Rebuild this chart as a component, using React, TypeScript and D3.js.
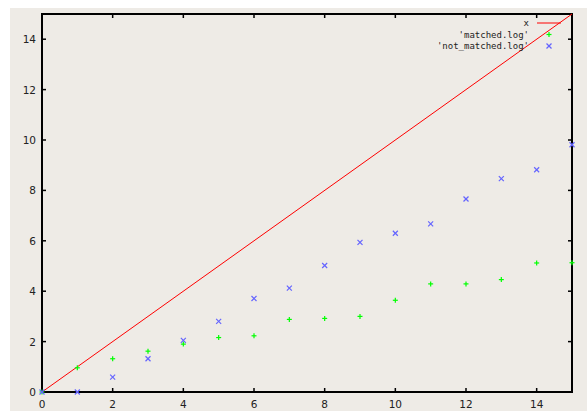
import React from "react";
import * as d3 from "d3";

const xValues = [0, 1, 2, 3, 4, 5, 6, 7, 8, 9, 10, 11, 12, 13, 14, 15];
const matched = [0, 0.96, 1.32, 1.62, 1.9, 2.16, 2.23, 2.88, 2.92, 3.0, 3.64, 4.29, 4.29, 4.46, 5.12, 5.13];
const notMatched = [0, 0, 0.59, 1.32, 2.05, 2.8, 3.71, 4.12, 5.02, 5.94, 6.3, 6.67, 7.66, 8.47, 8.82, 9.81];
const lineX = [0, 15];
const xTicks = [0, 2, 4, 6, 8, 10, 12, 14];
const yTicks = [0, 2, 4, 6, 8, 10, 12, 14];
const legendLabels = ["x", "'matched.log'", "'not_matched.log'"];

export default function App() {
  const W = 587, H = 411;
  const left = 42, right = 572, top = 14, bottom = 392;
  const x = d3.scaleLinear().domain([0, 15]).range([left, right]);
  const y = d3.scaleLinear().domain([0, 15]).range([bottom, top]);
  const line = d3.line<number>().x((d) => x(d)).y((d) => y(d));
  const tl = 4;
  const green = "#00ff00";
  const blue = "#6464ff";
  const s = 2.5;
  const plus = (cx: number, cy: number, c: string, k: string) => (
    <g key={k} stroke={c} strokeWidth={1.2}>
      <line x1={cx - s} x2={cx + s} y1={cy} y2={cy} />
      <line x1={cx} x2={cx} y1={cy - s} y2={cy + s} />
    </g>
  );
  const cross = (cx: number, cy: number, c: string, k: string) => (
    <g key={k} stroke={c} strokeWidth={1.2}>
      <line x1={cx - s} x2={cx + s} y1={cy - s} y2={cy + s} />
      <line x1={cx - s} x2={cx + s} y1={cy + s} y2={cy - s} />
    </g>
  );
  return (
    <svg
      width={W}
      height={H}
      style={{ position: "absolute", left: 0, top: 0, display: "block" }}
    >
      <rect x={0} y={0} width={W} height={H} fill="#ffffff" />
      <rect x={10} y={8} width={W - 10} height={H - 8} fill="#eeebe6" />
      <g fontFamily="DejaVu Sans, sans-serif" fontSize={10.5} fill="#222">
        {xTicks.map((t) => (
          <text key={"xt" + t} x={x(t)} y={408} textAnchor="middle">
            {t}
          </text>
        ))}
        {yTicks.map((t) => (
          <text key={"yt" + t} x={36} y={y(t) + 4} textAnchor="end">
            {t}
          </text>
        ))}
      </g>
      <g stroke="#000" strokeWidth={1.5}>
        {xTicks.map((t) => (
          <g key={"xtk" + t}>
            <line x1={x(t)} x2={x(t)} y1={bottom} y2={bottom - tl} />
            <line x1={x(t)} x2={x(t)} y1={top} y2={top + tl} />
          </g>
        ))}
        {yTicks.map((t) => (
          <g key={"ytk" + t}>
            <line x1={left} x2={left + tl} y1={y(t)} y2={y(t)} />
            <line x1={right} x2={right - tl} y1={y(t)} y2={y(t)} />
          </g>
        ))}
      </g>
      <rect
        x={left}
        y={top}
        width={right - left}
        height={bottom - top}
        fill="none"
        stroke="#000"
        strokeWidth={2}
      />
      <path d={line(lineX) || ""} stroke="#ff0000" strokeWidth={1} fill="none" />
      {xValues.map((v, i) => plus(x(v), y(matched[i]), green, "m" + i))}
      {xValues.map((v, i) => cross(x(v), y(notMatched[i]), blue, "n" + i))}
      <g fontFamily="DejaVu Sans Mono, monospace" fontSize={9} fill="#222">
        {legendLabels.map((l, i) => (
          <text key={"lg" + i} x={529} y={26 + i * 11.5} textAnchor="end">
            {l}
          </text>
        ))}
      </g>
      <line x1={537} x2={561} y1={23} y2={23} stroke="#ff0000" strokeWidth={1} />
      {plus(549, 34.5, green, "lgm")}
      {cross(549, 46, blue, "lgn")}
    </svg>
  );
}
